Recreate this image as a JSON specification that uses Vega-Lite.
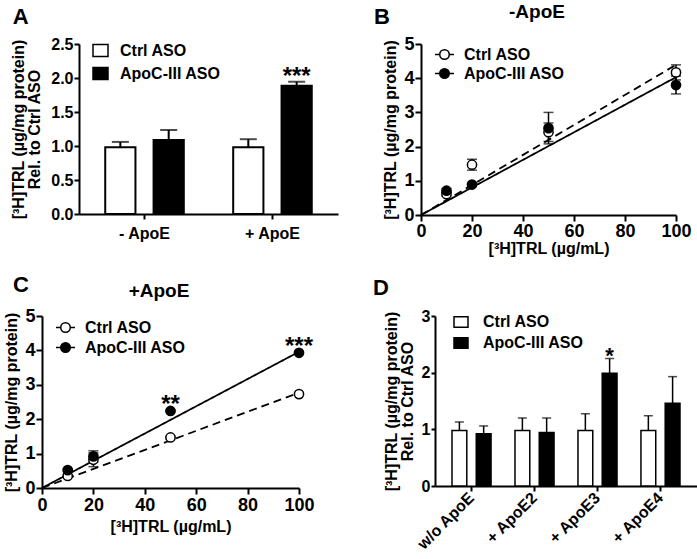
{
  "$schema": "https://vega.github.io/schema/vega-lite/v6.json",
  "background": "white",
  "padding": {"left": 3, "top": 3, "right": 0, "bottom": 0},
  "config": {
    "font": "Liberation Sans",
    "view": {"stroke": null},
    "axis": {"domainColor": "black", "domainWidth": 2, "tickColor": "black", "tickWidth": 2, "tickSize": 5, "grid": false, "labelColor": "black", "labelFontWeight": "bold", "labelFontSize": 16, "labelPadding": 2, "titleColor": "black", "titleFontWeight": "bold", "titleFontSize": 16, "labelFlush": false, "labelOverlap": false},
    "legend": {"labelFontSize": 16, "labelFontWeight": "bold", "labelColor": "black", "symbolStrokeColor": "black", "symbolStrokeWidth": 1.5, "padding": 0, "orient": "none"},
    "title": {"fontSize": 22, "fontWeight": "bold", "color": "black", "anchor": "start", "frame": "bounds"}
  },
  "datasets": {
    "barsA": [
      {"cond": "- ApoE", "grp": "Ctrl ASO", "mean": 0.98, "hi": 1.06},
      {"cond": "- ApoE", "grp": "ApoC-III ASO", "mean": 1.09, "hi": 1.235},
      {"cond": "+ ApoE", "grp": "Ctrl ASO", "mean": 0.98, "hi": 1.1},
      {"cond": "+ ApoE", "grp": "ApoC-III ASO", "mean": 1.885, "hi": 1.945}
    ],
    "starsA": [{"cond": "+ ApoE", "grp": "ApoC-III ASO", "sig": "***", "sy": 2.01}],
    "ptsB": [
      {"x": 10, "grp": "Ctrl ASO", "y": 0.61, "lo": 0.55, "hi": 0.67},
      {"x": 20, "grp": "Ctrl ASO", "y": 1.47, "lo": 1.31, "hi": 1.63},
      {"x": 50, "grp": "Ctrl ASO", "y": 2.42, "lo": 2.15, "hi": 2.69},
      {"x": 100, "grp": "Ctrl ASO", "y": 4.17, "lo": 3.95, "hi": 4.39},
      {"x": 10, "grp": "ApoC-III ASO", "y": 0.71, "lo": 0.65, "hi": 0.77},
      {"x": 20, "grp": "ApoC-III ASO", "y": 0.89, "lo": 0.84, "hi": 0.94},
      {"x": 50, "grp": "ApoC-III ASO", "y": 2.54, "lo": 2.08, "hi": 3.0},
      {"x": 100, "grp": "ApoC-III ASO", "y": 3.8, "lo": 3.54, "hi": 4.06}
    ],
    "linesB": [
      {"x": 0, "fit": "ctrl fit", "y": 0},
      {"x": 100, "fit": "ctrl fit", "y": 4.39},
      {"x": 0, "fit": "apoc fit", "y": 0},
      {"x": 100, "fit": "apoc fit", "y": 4.03}
    ],
    "ptsC": [
      {"x": 10, "grp": "Ctrl ASO", "y": 0.35, "lo": 0.31, "hi": 0.39},
      {"x": 20, "grp": "Ctrl ASO", "y": 0.82, "lo": 0.62, "hi": 1.02},
      {"x": 50, "grp": "Ctrl ASO", "y": 1.47, "lo": 1.44, "hi": 1.5},
      {"x": 100, "grp": "Ctrl ASO", "y": 2.73, "lo": 2.7, "hi": 2.76},
      {"x": 10, "grp": "ApoC-III ASO", "y": 0.52, "lo": 0.48, "hi": 0.56},
      {"x": 20, "grp": "ApoC-III ASO", "y": 0.92, "lo": 0.76, "hi": 1.08},
      {"x": 50, "grp": "ApoC-III ASO", "y": 2.24, "lo": 2.21, "hi": 2.27},
      {"x": 100, "grp": "ApoC-III ASO", "y": 3.93, "lo": 3.9, "hi": 3.96}
    ],
    "linesC": [
      {"x": 0, "fit": "ctrl fit", "y": 0},
      {"x": 100, "fit": "ctrl fit", "y": 2.77},
      {"x": 0, "fit": "apoc fit", "y": 0},
      {"x": 100, "fit": "apoc fit", "y": 3.96}
    ],
    "starsC": [
      {"x": 50, "sig": "**", "sy": 2.42},
      {"x": 100, "sig": "***", "sy": 4.1}
    ],
    "barsD": [
      {"cond": "w/o ApoE", "grp": "Ctrl ASO", "mean": 0.98, "hi": 1.13},
      {"cond": "w/o ApoE", "grp": "ApoC-III ASO", "mean": 0.92, "hi": 1.06},
      {"cond": "+ ApoE2", "grp": "Ctrl ASO", "mean": 0.98, "hi": 1.2},
      {"cond": "+ ApoE2", "grp": "ApoC-III ASO", "mean": 0.945, "hi": 1.2},
      {"cond": "+ ApoE3", "grp": "Ctrl ASO", "mean": 0.98, "hi": 1.275},
      {"cond": "+ ApoE3", "grp": "ApoC-III ASO", "mean": 1.99, "hi": 2.25},
      {"cond": "+ ApoE4", "grp": "Ctrl ASO", "mean": 0.98, "hi": 1.24},
      {"cond": "+ ApoE4", "grp": "ApoC-III ASO", "mean": 1.46, "hi": 1.93}
    ],
    "starsD": [{"cond": "+ ApoE3", "grp": "ApoC-III ASO", "sig": "*", "sy": 2.29}]
  },
  "spacing": 18,
  "resolve": {"scale": {"fill": "independent", "strokeDash": "independent", "xOffset": "independent"}, "legend": {"fill": "independent", "strokeDash": "independent"}},
  "vconcat": [
    {
      "spacing": 35,
      "resolve": {"scale": {"fill": "independent", "strokeDash": "independent", "xOffset": "independent"}, "legend": {"fill": "independent", "strokeDash": "independent"}},
      "hconcat": [
        {
          "spacing": -33,
          "resolve": {"scale": {"fill": "independent", "strokeDash": "independent", "xOffset": "independent"}, "legend": {"fill": "independent", "strokeDash": "independent"}},
          "hconcat": [
            {"width": 1, "height": 1, "data": {"values": []}, "mark": "point", "encoding": {}},
            {
              "title": {"text": "A", "offset": 7, "dx": 2},
              "width": 259, "height": 170,
              "data": {"name": "barsA"},
              "encoding": {
                "x": {"field": "cond", "type": "nominal", "sort": ["- ApoE", "+ ApoE"], "scale": {"paddingInner": 0.386, "paddingOuter": 0.205}, "axis": {"title": null, "labelAngle": 0, "labelPadding": 6}},
                "xOffset": {"field": "grp", "type": "nominal", "sort": ["Ctrl ASO", "ApoC-III ASO"], "scale": {"paddingInner": 0.375, "paddingOuter": 0}}
              },
              "layer": [
                {"mark": {"type": "rule", "strokeWidth": 2, "color": "black"},
                 "encoding": {"y": {"field": "mean", "type": "quantitative", "scale": {"domain": [0, 2.5], "nice": false}, "title": ["[³H]TRL (µg/mg protein)", "Rel. to Ctrl ASO"], "axis": {"values": [0, 0.5, 1, 1.5, 2, 2.5], "format": ".1f", "titleLineHeight": 16, "titlePadding": 8, "labelPadding": 1, "tickSize": 5}}, "y2": {"field": "hi"}}},
                {"mark": {"type": "tick", "orient": "horizontal", "size": 17, "thickness": 2, "color": "black"},
                 "encoding": {"y": {"field": "hi", "type": "quantitative", "scale": {"domain": [0, 2.5], "nice": false}, "title": ["[³H]TRL (µg/mg protein)", "Rel. to Ctrl ASO"], "axis": {"values": [0, 0.5, 1, 1.5, 2, 2.5], "format": ".1f", "titleLineHeight": 16, "titlePadding": 8, "labelPadding": 1, "tickSize": 5}}}},
                {"mark": {"type": "bar", "stroke": "black", "strokeWidth": 2},
                 "encoding": {
                   "y": {"field": "mean", "type": "quantitative", "scale": {"domain": [0, 2.5], "nice": false}, "title": ["[³H]TRL (µg/mg protein)", "Rel. to Ctrl ASO"], "axis": {"values": [0, 0.5, 1, 1.5, 2, 2.5], "format": ".1f", "titleLineHeight": 16, "titlePadding": 8, "labelPadding": 1, "tickSize": 5}},
                   "fill": {"field": "grp", "type": "nominal", "sort": ["Ctrl ASO", "ApoC-III ASO"], "scale": {"domain": ["Ctrl ASO", "ApoC-III ASO"], "range": ["white", "black"]},
                     "legend": {"title": null, "legendX": 13, "legendY": -2, "symbolType": "M-1,-0.8H1V0.8H-1Z", "symbolSize": 225, "labelOffset": 11, "rowPadding": 4}}
                 }},
                {"data": {"name": "starsA"}, "mark": {"type": "text", "fontSize": 24, "fontWeight": "bold", "baseline": "middle", "color": "black"},
                 "encoding": {"y": {"field": "sy", "type": "quantitative", "scale": {"domain": [0, 2.5], "nice": false}, "title": ["[³H]TRL (µg/mg protein)", "Rel. to Ctrl ASO"], "axis": {"values": [0, 0.5, 1, 1.5, 2, 2.5], "format": ".1f", "titleLineHeight": 16, "titlePadding": 8, "labelPadding": 1, "tickSize": 5}}, "text": {"field": "sig"}}}
              ]
            }
          ]
        },
        {
          "title": {"text": "B", "dx": -9, "offset": -26},
          "resolve": {"scale": {"fill": "independent", "strokeDash": "independent"}, "legend": {"fill": "independent", "strokeDash": "independent"}},
          "vconcat": [
            {
              "title": {"text": "-ApoE", "anchor": "middle", "fontSize": 19, "offset": 13},
              "width": 255, "height": 171,
              "encoding": {
                "x": {"field": "x", "type": "quantitative", "scale": {"domain": [0, 100], "nice": false}, "axis": {"values": [0, 20, 40, 60, 80, 100], "title": "[³H]TRL (µg/mL)", "labelFontSize": 18, "tickSize": 6, "labelPadding": 1, "titlePadding": 0}}
              },
              "layer": [
                {"data": {"name": "linesB"}, "mark": {"type": "line", "color": "black", "strokeWidth": 1.8},
                 "encoding": {"y": {"field": "y", "type": "quantitative", "scale": {"domain": [0, 5], "nice": false}, "title": "[³H]TRL (µg/mg protein)", "axis": {"values": [0, 1, 2, 3, 4, 5], "labelFontSize": 18, "tickSize": 6, "labelPadding": 1, "titlePadding": 5}},
                   "strokeDash": {"field": "fit", "type": "nominal", "scale": {"domain": ["ctrl fit", "apoc fit"], "range": [[8, 5], [1, 0]]}, "legend": null}}},
                {"data": {"name": "ptsB"}, "mark": {"type": "rule", "color": "black", "strokeWidth": 1.5},
                 "encoding": {"y": {"field": "lo", "type": "quantitative", "scale": {"domain": [0, 5], "nice": false}, "title": "[³H]TRL (µg/mg protein)", "axis": {"values": [0, 1, 2, 3, 4, 5], "labelFontSize": 18, "tickSize": 6, "labelPadding": 1, "titlePadding": 5}}, "y2": {"field": "hi"}}},
                {"data": {"name": "ptsB"}, "mark": {"type": "tick", "orient": "horizontal", "size": 10, "thickness": 1.5, "color": "black"},
                 "encoding": {"y": {"field": "lo", "type": "quantitative", "scale": {"domain": [0, 5], "nice": false}, "title": "[³H]TRL (µg/mg protein)", "axis": {"values": [0, 1, 2, 3, 4, 5], "labelFontSize": 18, "tickSize": 6, "labelPadding": 1, "titlePadding": 5}}}},
                {"data": {"name": "ptsB"}, "mark": {"type": "tick", "orient": "horizontal", "size": 10, "thickness": 1.5, "color": "black"},
                 "encoding": {"y": {"field": "hi", "type": "quantitative", "scale": {"domain": [0, 5], "nice": false}, "title": "[³H]TRL (µg/mg protein)", "axis": {"values": [0, 1, 2, 3, 4, 5], "labelFontSize": 18, "tickSize": 6, "labelPadding": 1, "titlePadding": 5}}}},
                {"data": {"name": "ptsB"}, "mark": {"type": "point", "shape": "circle", "filled": true, "size": 85, "stroke": "black", "strokeWidth": 1.5, "opacity": 1},
                 "encoding": {"y": {"field": "y", "type": "quantitative", "scale": {"domain": [0, 5], "nice": false}, "title": "[³H]TRL (µg/mg protein)", "axis": {"values": [0, 1, 2, 3, 4, 5], "labelFontSize": 18, "tickSize": 6, "labelPadding": 1, "titlePadding": 5}},
                   "fill": {"field": "grp", "type": "nominal", "sort": ["Ctrl ASO", "ApoC-III ASO"], "scale": {"domain": ["Ctrl ASO", "ApoC-III ASO"], "range": ["white", "black"]},
                     "legend": {"title": null, "legendX": 13, "legendY": 0, "symbolType": "M-1,0H-0.5M0.5,0H1M0.5,0A0.5,0.5,0,1,1,-0.5,0A0.5,0.5,0,1,1,0.5,0", "symbolSize": 361, "labelOffset": 9, "rowPadding": 0}}}}
              ]
            }
          ]
        }
      ]
    },
    {
      "spacing": 58,
      "resolve": {"scale": {"fill": "independent", "strokeDash": "independent", "xOffset": "independent"}, "legend": {"fill": "independent", "strokeDash": "independent"}},
      "hconcat": [
        {
          "title": {"text": "C", "offset": -15, "dx": 9},
          "resolve": {"scale": {"fill": "independent", "strokeDash": "independent"}, "legend": {"fill": "independent", "strokeDash": "independent"}},
          "vconcat": [
            {
              "title": {"text": "+ApoE", "anchor": "middle", "fontSize": 19, "offset": 6},
              "width": 257, "height": 172,
              "encoding": {
                "x": {"field": "x", "type": "quantitative", "scale": {"domain": [0, 100], "nice": false}, "axis": {"values": [0, 20, 40, 60, 80, 100], "title": "[³H]TRL (µg/mL)", "labelFontSize": 18, "tickSize": 6, "labelPadding": 2, "titlePadding": 4}}
              },
              "layer": [
                {"data": {"name": "linesC"}, "mark": {"type": "line", "color": "black", "strokeWidth": 1.8},
                 "encoding": {"y": {"field": "y", "type": "quantitative", "scale": {"domain": [0, 5], "nice": false}, "title": "[³H]TRL (µg/mg protein)", "axis": {"values": [0, 1, 2, 3, 4, 5], "labelFontSize": 18, "tickSize": 6, "labelPadding": 1, "titlePadding": 5}},
                   "strokeDash": {"field": "fit", "type": "nominal", "scale": {"domain": ["ctrl fit", "apoc fit"], "range": [[8, 5], [1, 0]]}, "legend": null}}},
                {"data": {"name": "ptsC"}, "mark": {"type": "rule", "color": "black", "strokeWidth": 1.5},
                 "encoding": {"y": {"field": "lo", "type": "quantitative", "scale": {"domain": [0, 5], "nice": false}, "title": "[³H]TRL (µg/mg protein)", "axis": {"values": [0, 1, 2, 3, 4, 5], "labelFontSize": 18, "tickSize": 6, "labelPadding": 1, "titlePadding": 5}}, "y2": {"field": "hi"}}},
                {"data": {"name": "ptsC"}, "mark": {"type": "tick", "orient": "horizontal", "size": 10, "thickness": 1.5, "color": "black"},
                 "encoding": {"y": {"field": "lo", "type": "quantitative", "scale": {"domain": [0, 5], "nice": false}, "title": "[³H]TRL (µg/mg protein)", "axis": {"values": [0, 1, 2, 3, 4, 5], "labelFontSize": 18, "tickSize": 6, "labelPadding": 1, "titlePadding": 5}}}},
                {"data": {"name": "ptsC"}, "mark": {"type": "tick", "orient": "horizontal", "size": 10, "thickness": 1.5, "color": "black"},
                 "encoding": {"y": {"field": "hi", "type": "quantitative", "scale": {"domain": [0, 5], "nice": false}, "title": "[³H]TRL (µg/mg protein)", "axis": {"values": [0, 1, 2, 3, 4, 5], "labelFontSize": 18, "tickSize": 6, "labelPadding": 1, "titlePadding": 5}}}},
                {"data": {"name": "ptsC"}, "mark": {"type": "point", "shape": "circle", "filled": true, "size": 85, "stroke": "black", "strokeWidth": 1.5, "opacity": 1},
                 "encoding": {"y": {"field": "y", "type": "quantitative", "scale": {"domain": [0, 5], "nice": false}, "title": "[³H]TRL (µg/mg protein)", "axis": {"values": [0, 1, 2, 3, 4, 5], "labelFontSize": 18, "tickSize": 6, "labelPadding": 1, "titlePadding": 5}},
                   "fill": {"field": "grp", "type": "nominal", "sort": ["Ctrl ASO", "ApoC-III ASO"], "scale": {"domain": ["Ctrl ASO", "ApoC-III ASO"], "range": ["white", "black"]},
                     "legend": {"title": null, "legendX": 13, "legendY": 1, "symbolType": "M-1,0H-0.5M0.5,0H1M0.5,0A0.5,0.5,0,1,1,-0.5,0A0.5,0.5,0,1,1,0.5,0", "symbolSize": 361, "labelOffset": 9, "rowPadding": 1}}}},
                {"data": {"name": "starsC"}, "mark": {"type": "text", "fontSize": 24, "fontWeight": "bold", "baseline": "middle", "color": "black"},
                 "encoding": {"y": {"field": "sy", "type": "quantitative", "scale": {"domain": [0, 5], "nice": false}, "title": "[³H]TRL (µg/mg protein)", "axis": {"values": [0, 1, 2, 3, 4, 5], "labelFontSize": 18, "tickSize": 6, "labelPadding": 1, "titlePadding": 5}}, "text": {"field": "sig"}}}
              ]
            }
          ]
        },
        {
          "title": {"text": "D", "dx": -10, "offset": 8},
          "width": 262, "height": 170,
          "data": {"name": "barsD"},
          "encoding": {
            "x": {"field": "cond", "type": "nominal", "sort": ["w/o ApoE", "+ ApoE2", "+ ApoE3", "+ ApoE4"], "scale": {"paddingInner": 0.38, "paddingOuter": 0.27}, "axis": {"title": null, "labelAngle": -45, "labelAlign": "right", "labelBaseline": "middle", "labelPadding": 4}},
            "xOffset": {"field": "grp", "type": "nominal", "sort": ["Ctrl ASO", "ApoC-III ASO"], "scale": {"paddingInner": 0.39, "paddingOuter": 0}}
          },
          "layer": [
            {"mark": {"type": "rule", "strokeWidth": 1.5, "color": "black"},
             "encoding": {"y": {"field": "mean", "type": "quantitative", "scale": {"domain": [0, 3], "nice": false}, "title": ["[³H]TRL (µg/mg protein)", "Rel. to Ctrl ASO"], "axis": {"values": [0, 1, 2, 3], "format": "d", "titleLineHeight": 16, "titlePadding": 6, "labelPadding": 1, "tickSize": 4}}, "y2": {"field": "hi"}}},
            {"mark": {"type": "tick", "orient": "horizontal", "size": 9, "thickness": 1.5, "color": "black"},
             "encoding": {"y": {"field": "hi", "type": "quantitative", "scale": {"domain": [0, 3], "nice": false}, "title": ["[³H]TRL (µg/mg protein)", "Rel. to Ctrl ASO"], "axis": {"values": [0, 1, 2, 3], "format": "d", "titleLineHeight": 16, "titlePadding": 6, "labelPadding": 1, "tickSize": 4}}}},
            {"mark": {"type": "bar", "stroke": "black", "strokeWidth": 1.5},
             "encoding": {
               "y": {"field": "mean", "type": "quantitative", "scale": {"domain": [0, 3], "nice": false}, "title": ["[³H]TRL (µg/mg protein)", "Rel. to Ctrl ASO"], "axis": {"values": [0, 1, 2, 3], "format": "d", "titleLineHeight": 16, "titlePadding": 6, "labelPadding": 1, "tickSize": 4}},
               "fill": {"field": "grp", "type": "nominal", "sort": ["Ctrl ASO", "ApoC-III ASO"], "scale": {"domain": ["Ctrl ASO", "ApoC-III ASO"], "range": ["white", "black"]},
                 "legend": {"title": null, "legendX": 18, "legendY": -2, "symbolType": "M-1,-0.75H1V0.75H-1Z", "symbolSize": 196, "labelOffset": 14, "rowPadding": 3}}
             }},
            {"data": {"name": "starsD"}, "mark": {"type": "text", "fontSize": 22, "fontWeight": "bold", "baseline": "middle", "color": "black"},
             "encoding": {"y": {"field": "sy", "type": "quantitative", "scale": {"domain": [0, 3], "nice": false}, "title": ["[³H]TRL (µg/mg protein)", "Rel. to Ctrl ASO"], "axis": {"values": [0, 1, 2, 3], "format": "d", "titleLineHeight": 16, "titlePadding": 6, "labelPadding": 1, "tickSize": 4}}, "text": {"field": "sig"}}}
          ]
        }
      ]
    }
  ]
}
